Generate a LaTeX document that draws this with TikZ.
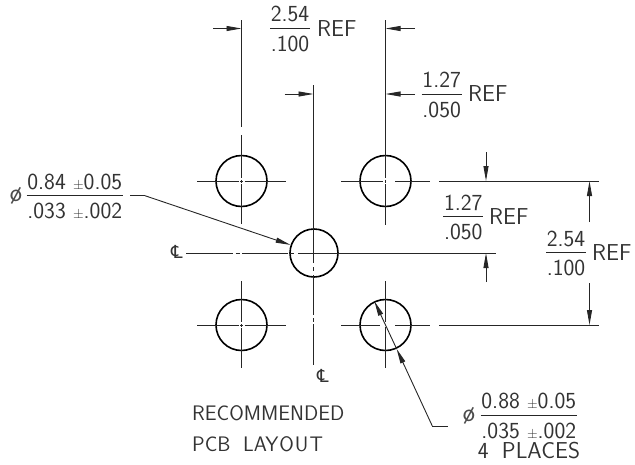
\documentclass[tikz,border=0pt]{standalone}
\usepackage{fontspec}
\usepackage{graphicx}
\usepackage{tikz}
\usetikzlibrary{arrows.meta}
\newfontfamily\symfont{DejaVu Sans}

\tikzset{x=1pt,y=-1pt,
    dimline/.style={line width=0.9pt,black!85},
    dimarrow/.style={dimline,-{Stealth[length=15pt,width=5pt,inset=0pt]}},
    pad/.style={draw,circle,line width=1.6pt,minimum size=51pt,inner sep=0pt},
    dimtext/.style={font=\sffamily\fontsize{23}{23}\selectfont,text=black!80,inner sep=0pt},
    notetext/.style={font=\sffamily\fontsize{21}{21}\selectfont,text=black!80,inner sep=0pt},
    diatext/.style={font=\sffamily\fontsize{26}{26}\selectfont,text=black!70,inner sep=0pt},
    cltext/.style={font=\symfont\fontsize{18}{18}\selectfont,text=black!80,inner sep=0pt}}

% one fraction: name, middle of the bar x, y, half bar, top, bottom
\newcommand{\dimfrac}[6]{
    \draw[dimline] (#2-#4,#3) -- (#2+#4,#3);
    \node[dimtext,anchor=south] (#1top) at (#2,#3-6) {#5};
    \node[dimtext,anchor=north] (#1bot) at (#2,#3+7.5) {#6};
}
% centre mark of one pad
\newcommand{\padmark}[2]{
    \draw[dimline] (#1-44.5,#2) -- (#1-3,#2) (#1-1.5,#2) -- (#1+1.5,#2) (#1+3,#2) -- (#1+44.5,#2);
    \draw[dimline] (#1,#2-44) -- (#1,#2-3) (#1,#2-1.5) -- (#1,#2+1.5) (#1,#2+3) -- (#1,#2+43);
}
\newcommand{\tol}{{\fontsize{14}{14}\selectfont ±}}

\begin{document}
\begin{tikzpicture}
    \useasboundingbox (0,0) rectangle (635,464);

    \node[pad] (padtl) at (241.5,181) {};
    \node[pad] (padtr) at (385.5,181) {};
    \node[pad,minimum size=48pt] (padc) at (314,253) {};
    \node[pad] (padbl) at (241.5,325) {};
    \node[pad] (padbr) at (385.5,325) {};

    \padmark{241.5}{181}
    \padmark{241.5}{325}
    \draw[dimline] (385.5,137) -- (385.5,178) (385.5,179.5) -- (385.5,182.5) (385.5,184) -- (385.5,225);
    \draw[dimline] (385.5,281) -- (385.5,322) (385.5,327) -- (385.5,368);

    % extension lines
    \draw[dimline] (241.5,20) -- (241.5,127);
    \draw[dimline] (241.5,127) ++(0,8) -- ++(0,2);
    \draw[dimline] (385.5,20) -- (385.5,140);
    \draw[dimline] (341,181) -- (383,181) (395,181) -- (430,181) (439,181) -- (599,181);
    \draw[dimline] (341,325) -- (380,325) (395,325) -- (430,325) (439,325) -- (599,325);

    % centre lines
    \draw[dimline] (186,253) -- (233,253) (235.5,253) -- (240,253) (242,253) -- (288,253)
        (290,253) -- (294,253) (298,253) -- (496,253);
    \draw[dimline] (313.5,85) -- (313.5,263) (313.5,267) -- (313.5,271) (313.5,275) -- (313.5,315)
        (313.5,318) -- (313.5,322) (313.5,324) -- (313.5,365);

    % dimension arrows
    \draw[dimarrow] (213,28.5) -- (241.5,28.5);
    \draw[dimarrow] (415,28.5) -- (385.5,28.5);
    \draw[dimarrow] (284.5,94) -- (313.5,94);
    \draw[dimarrow] (415,94) -- (385.5,94);
    \draw[dimarrow] (486,152) -- (486,181);
    \draw[dimarrow] (486,282) -- (486,253);
    \draw[dimarrow] (589.5,222) -- (589.5,181);
    \draw[dimarrow] (589.5,283) -- (589.5,325);

    % leaders
    \coordinate (leadc) at (145,195.7);
    \coordinate (leadbr) at (432.3,426);
    \draw[dimline] (130,195.7) -- (leadc);
    \draw[dimarrow] (leadc) -- (padc.161);
    \draw[dimline] (447.7,426) -- (leadbr);
    \draw[dimarrow] (leadbr) -- (padbr.-65);
    \draw[dimarrow] (padbr.-65) -- (padbr.115);

    % labels
    \dimfrac{topref}{290}{28.5}{20}{2.54}{.100}
    \node[dimtext,anchor=west] (toprefr) at (317,29) {REF};
    \dimfrac{midref}{441.7}{94}{20}{1.27}{.050}
    \node[dimtext,anchor=west] (midrefr) at (468,94) {REF};
    \dimfrac{lowref}{463.3}{216.7}{20}{1.27}{.050}
    \node[dimtext,anchor=west] (lowrefr) at (489,217) {REF};
    \dimfrac{sideref}{566}{252.7}{20}{2.54}{.100}
    \node[dimtext,anchor=west] (siderefr) at (592,253) {REF};

    \node[diatext] (diac) at (16,196) {ø};
    \dimfrac{holec}{74.8}{195.7}{48.2}{0.84 \tol 0.05}{.033 \tol.002}
    \node[diatext] (diabr) at (469,416) {ø};
    \dimfrac{holebr}{528.8}{415}{48.2}{0.88 \tol 0.05}{.035 \tol.002}
    \node[dimtext] (places) at (529,451) {4\hspace{6pt} PLACES};

    \node[cltext] (clleft) at (177,251.5) {℄};
    \node[cltext] (clbot) at (323,375.5) {℄};

    \node[notetext,anchor=west] (rec) at (192,413) {RECOMMENDED};
    \node[notetext,anchor=west] (layout) at (192,444) {PCB\hspace{6pt} LAY\hspace{1pt}O\hspace{1pt}U\hspace{1pt}T};
\end{tikzpicture}
\end{document}
